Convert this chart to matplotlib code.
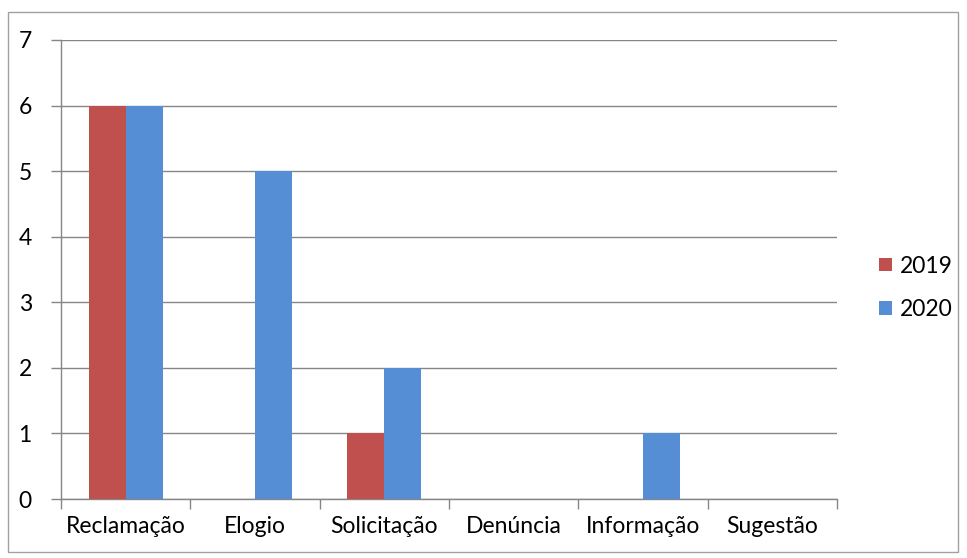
import numpy as np
import matplotlib.pyplot as plt
from matplotlib.patches import Rectangle

categories = ['Reclamação', 'Elogio', 'Solicitação', 'Denúncia', 'Informação', 'Sugestão']
series_names = ['2019', '2020']
values_2019 = [6, 0, 1, 0, 0, 0]
values_2020 = [6, 5, 2, 0, 1, 0]

red = '#C0504D'
blue = '#558ED5'
grid_col = '#868686'

plt.rcParams['font.family'] = ['Lato', 'DejaVu Sans']
fs = 16.5

W, H = 967, 558
fig = plt.figure(figsize=(W / 100, H / 100), dpi=100)
ax = fig.add_axes([61 / W, 1 - 499 / H, (837 - 61) / W, (499 - 40) / H])

x = np.arange(len(categories))
bw = 0.285
ax.bar(x - bw / 2, values_2019, bw, color=red, label=series_names[0], zorder=3)
ax.bar(x + bw / 2, values_2020, bw, color=blue, label=series_names[1], zorder=3)

ax.set_xlim(-0.5, len(categories) - 0.5)
ax.set_ylim(0, 7)
ax.set_yticks(range(8))
ax.yaxis.grid(True, color=grid_col, linewidth=1)
ax.set_axisbelow(True)

ax.set_xticks(x)
ax.set_xticklabels(categories, fontsize=fs)
ax.tick_params(axis='x', length=0, pad=12)
ax.set_xticks(np.arange(len(categories) + 1) - 0.5, minor=True)
ax.tick_params(axis='x', which='minor', length=7, color=grid_col, width=1)
ax.tick_params(axis='y', length=7, color=grid_col, width=1, labelsize=fs, pad=14)

for s in ['top', 'right']:
    ax.spines[s].set_visible(False)
for s in ['left', 'bottom']:
    ax.spines[s].set_color(grid_col)
    ax.spines[s].set_linewidth(1)

leg = fig.legend(loc='center left', bbox_to_anchor=(879 / W, 1 - 288 / H), frameon=False,
                 fontsize=fs, handlelength=0.55, handleheight=0.55, handletextpad=0.35,
                 labelspacing=1.0, borderpad=0, borderaxespad=0)

fig.patches.append(Rectangle((8 / W, 1 - 552 / H), (958 - 8) / W, (552 - 12) / H,
                             transform=fig.transFigure, fill=False,
                             edgecolor='#A0A0A0', linewidth=1))

fig.savefig('out.png', dpi=100)
